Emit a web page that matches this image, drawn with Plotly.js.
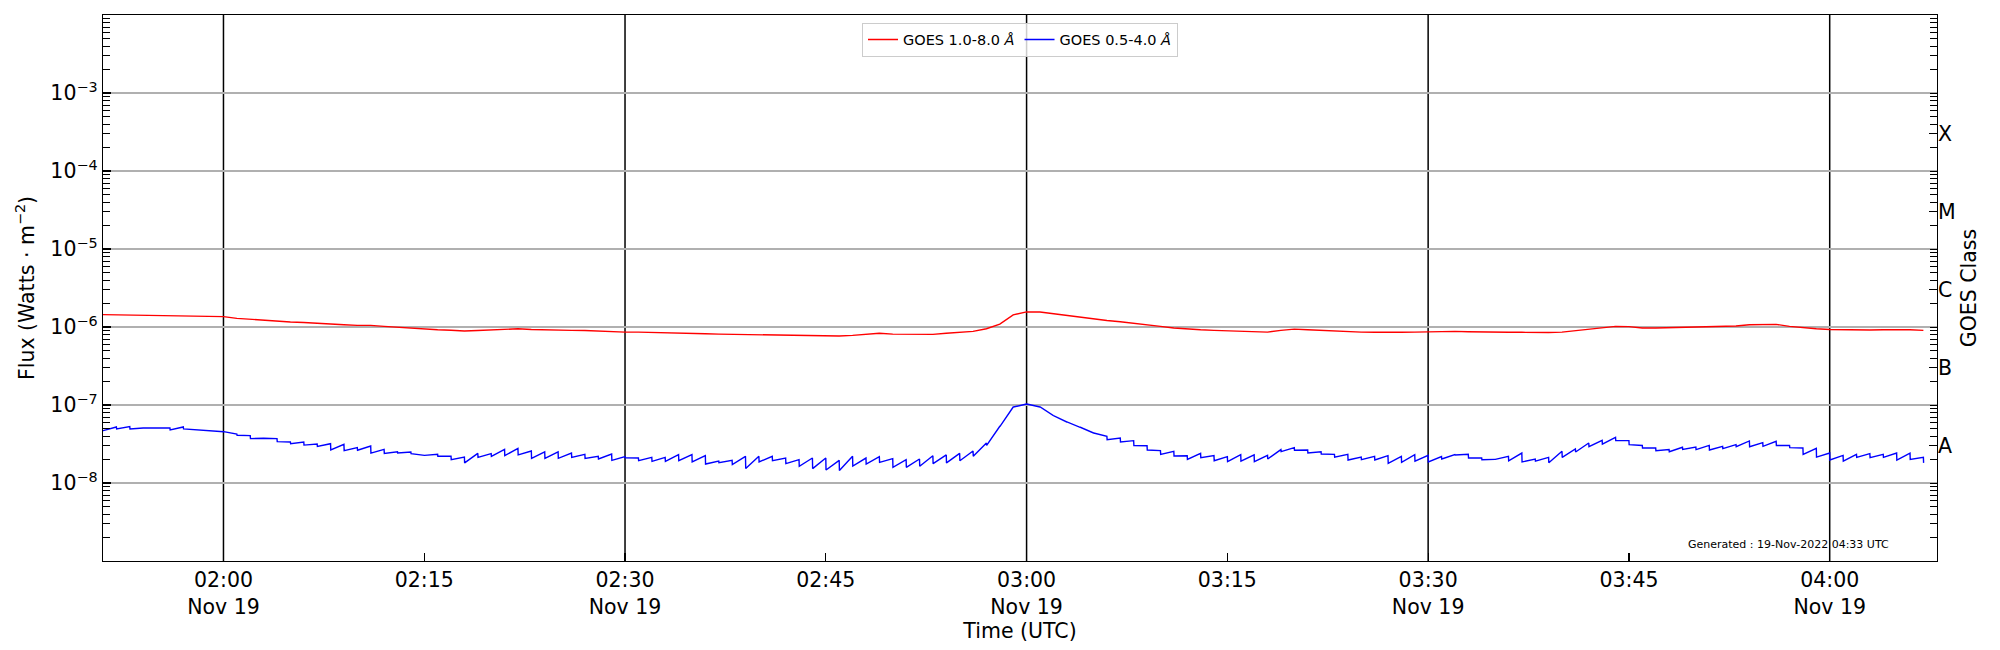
<!DOCTYPE html>
<html>
<head>
<meta charset="utf-8">
<script src="https://cdn.plot.ly/plotly-3.0.1.min.js"></script>
<style>
  html, body { margin: 0; padding: 0; background: #fff; }
  #goes-chart { width: 2000px; height: 650px; }
</style>
</head>
<body>
<div id="goes-chart"></div>
<script>
// one sample per minute, starting 2022-11-19 01:51 UTC
const startTime = Date.UTC(2022, 10, 19, 1, 51, 0);

// GOES 1.0-8.0 A, units of 1e-6 W/m^2
const longFlux = [
  1.44, 1.43, 1.43, 1.41, 1.41, 1.41, 1.41, 1.38, 1.37, 1.36,
  1.29, 1.25, 1.22, 1.18, 1.16, 1.14, 1.11, 1.09, 1.07, 1.05,
  1.05, 1.02, 0.99, 0.96, 0.94, 0.92, 0.91, 0.89, 0.90, 0.915,
  0.93, 0.95, 0.93, 0.915, 0.915, 0.905, 0.90, 0.88, 0.87, 0.86,
  0.86, 0.855, 0.85, 0.84, 0.83, 0.82, 0.81, 0.805, 0.80, 0.79,
  0.79, 0.79, 0.78, 0.78, 0.774, 0.767, 0.78, 0.81, 0.83, 0.81,
  0.805, 0.805, 0.805, 0.83, 0.85, 0.88, 0.95, 1.09, 1.43, 1.56,
  1.56, 1.48, 1.41, 1.36, 1.28, 1.21, 1.17, 1.11, 1.06, 1.02,
  0.97, 0.94, 0.92, 0.905, 0.89, 0.87, 0.86, 0.86, 0.905, 0.94,
  0.92, 0.90, 0.88, 0.87, 0.86, 0.855, 0.85, 0.855, 0.86, 0.87,
  0.87, 0.88, 0.87, 0.86, 0.855, 0.855, 0.855, 0.85, 0.85, 0.86,
  0.90, 0.93, 0.97, 1.02, 1.01, 0.97, 0.97, 0.98, 0.98, 0.99,
  1.00, 1.02, 1.03, 1.07, 1.07, 1.08, 1.02, 0.98, 0.95, 0.93,
  0.92, 0.92, 0.915, 0.92, 0.93, 0.92, 0.905
];

// GOES 0.5-4.0 A, units of 1e-8 W/m^2
// value reached at the end of each minute, and value just after the drop
const shortPeak = [
  4.69, 5.23, 5.28, 5.08, 5.08, 5.08, 5.23, 4.78, 4.64, 4.55,
  4.25, 4.05, 3.74, 3.71, 3.36, 3.36, 3.16, 3.19, 3.13, 2.84,
  2.98, 2.70, 2.52, 2.50, 2.29, 2.33, 2.20, 2.15, 2.40, 2.38,
  2.70, 2.78, 2.57, 2.50, 2.50, 2.42, 2.33, 2.20, 2.35, 2.18,
  2.09, 2.13, 2.13, 2.31, 2.31, 2.24, 1.91, 1.95, 2.20, 2.20,
  2.20, 2.09, 1.99, 2.09, 2.09, 1.95, 2.20, 2.09, 2.18, 2.05,
  1.99, 2.03, 2.24, 2.29, 2.40, 2.57, 3.26, 5.33, 9.42, 10.3,
  9.42, 7.30, 6.06, 5.18, 4.38, 3.97, 3.77, 3.49, 3.00, 2.60,
  2.55, 2.24, 2.40, 2.24, 2.18, 2.31, 2.29, 2.26, 2.68, 2.84,
  2.65, 2.52, 2.33, 2.33, 2.15, 2.20, 2.24, 2.20, 2.31, 2.26,
  2.18, 2.31, 2.33, 2.09, 2.01, 2.20, 2.42, 2.03, 2.13, 2.55,
  2.73, 3.26, 3.52, 3.85, 3.49, 3.03, 2.81, 2.68, 2.87, 2.89,
  3.03, 2.95, 3.10, 3.46, 3.29, 3.42, 3.03, 2.81, 2.78, 2.42,
  2.26, 2.33, 2.38, 2.33, 2.42, 2.42, 2.13
];
const shortDrop = [
  4.69, 4.93, 4.93, 5.08, 5.08, 4.78, 4.93, 4.78, 4.64, 4.55,
  4.09, 3.71, 3.74, 3.39, 3.19, 3.06, 2.95, 2.65, 2.60, 2.63,
  2.42, 2.40, 2.42, 2.38, 2.26, 2.20, 1.99, 1.81, 2.13, 2.20,
  2.24, 2.29, 2.07, 2.07, 2.07, 2.13, 2.07, 2.03, 1.95, 2.11,
  1.93, 1.89, 1.89, 1.93, 1.86, 1.75, 1.82, 1.72, 1.53, 1.86,
  1.93, 1.77, 1.64, 1.53, 1.47, 1.45, 1.65, 1.75, 1.84, 1.59,
  1.59, 1.64, 1.77, 1.81, 1.93, 2.20, 3.03, 5.33, 9.42, 10.3,
  9.42, 7.30, 6.06, 5.18, 4.38, 3.59, 3.36, 3.03, 2.65, 2.33,
  2.22, 2.01, 2.11, 1.93, 1.88, 1.91, 1.88, 2.03, 2.52, 2.63,
  2.42, 2.35, 2.15, 1.97, 1.99, 1.97, 1.79, 1.84, 1.91, 1.86,
  2.03, 2.29, 2.09, 1.99, 2.01, 1.93, 1.86, 1.91, 1.82, 2.13,
  2.50, 2.92, 3.16, 3.49, 3.10, 2.81, 2.60, 2.52, 2.70, 2.68,
  2.65, 2.76, 2.92, 2.92, 2.95, 3.03, 2.84, 2.33, 2.15, 1.97,
  1.91, 2.13, 2.11, 2.13, 1.97, 2.01, 1.81
];

const tickTimes = [
  '2022-11-19 02:00', '2022-11-19 02:15', '2022-11-19 02:30', '2022-11-19 02:45',
  '2022-11-19 03:00', '2022-11-19 03:15', '2022-11-19 03:30', '2022-11-19 03:45',
  '2022-11-19 04:00'
];
const tickLabels = [
  '02:00<br>Nov 19', '02:15', '02:30<br>Nov 19', '02:45',
  '03:00<br>Nov 19', '03:15', '03:30<br>Nov 19', '03:45',
  '04:00<br>Nov 19'
];
const halfHours = ['2022-11-19 02:00', '2022-11-19 02:30', '2022-11-19 03:00',
                   '2022-11-19 03:30', '2022-11-19 04:00'];

const fluxTicks = [1e-3, 1e-4, 1e-5, 1e-6, 1e-7, 1e-8];
const fluxLabels = ['10<sup>−3</sup>', '10<sup>−4</sup>', '10<sup>−5</sup>',
                    '10<sup>−6</sup>', '10<sup>−7</sup>', '10<sup>−8</sup>'];
const classTicks = [3e-8, 3e-7, 3e-6, 3e-5, 3e-4];
const classLabels = ['A', 'B', 'C', 'M', 'X'];

const FONT = 'DejaVu Sans, Verdana, sans-serif';
const FS = 20.5;

const fmt = ms => new Date(ms).toISOString().slice(0, 19).replace('T', ' ');

// --- build traces ---
const longX = [], longY = [];
longFlux.forEach((v, i) => {
    longX.push(fmt(startTime + i * 60000));
    longY.push(v * 1e-6);
});

const shortX = [], shortY = [];
shortPeak.forEach((v, i) => {
    const t = startTime + i * 60000;
    shortX.push(fmt(t));        shortY.push(v * 1e-8);
    shortX.push(fmt(t + 1000)); shortY.push(shortDrop[i] * 1e-8);
});

const traces = [
    {
        x: longX, y: longY, name: 'GOES 1.0-8.0 <i>Å</i>',
        type: 'scatter', mode: 'lines',
        line: { color: '#ff0000', width: 1.4 }
    },
    {
        x: shortX, y: shortY, name: 'GOES 0.5-4.0 <i>Å</i>',
        type: 'scatter', mode: 'lines',
        line: { color: '#0000ff', width: 1.4 }
    },
    // empty trace so the class axis on the right gets drawn
    { x: [], y: [], yaxis: 'y2', type: 'scatter', mode: 'lines', showlegend: false, hoverinfo: 'skip' }
];

const layout = {
    width: 2000, height: 650,
    margin: { l: 103, r: 63, t: 15, b: 89 },
    paper_bgcolor: '#fff', plot_bgcolor: '#fff',
    font: { family: FONT, color: '#000', size: FS },
    hovermode: false,
    showlegend: true,
    legend: {
        orientation: 'h', x: 0.5, xanchor: 'center', y: 0.986, yanchor: 'top',
        bgcolor: 'rgba(255,255,255,0.8)', bordercolor: '#cccccc', borderwidth: 1,
        font: { family: FONT, size: 14.5, color: '#000' },
        itemwidth: 30
    },
    xaxis: {
        type: 'date',
        range: ['2022-11-19 01:51:00', '2022-11-19 04:08:01'],
        tickmode: 'array', tickvals: tickTimes, ticktext: tickLabels,
        ticks: 'inside', ticklen: 8, tickwidth: 1.2, tickcolor: '#000',
        showgrid: false, zeroline: false,
        showline: true, linecolor: '#000', linewidth: 1.3, mirror: true,
        tickfont: { family: FONT, size: FS, color: '#000' },
        title: { text: 'Time (UTC)', font: { family: FONT, size: FS, color: '#000' }, standoff: 4 }
    },
    yaxis: {
        type: 'log', range: [-9, -2],
        tickmode: 'array', tickvals: fluxTicks, ticktext: fluxLabels,
        ticks: 'inside', ticklen: 8, tickwidth: 1.2, tickcolor: '#000',
        minor: { ticks: 'inside', ticklen: 7, tickwidth: 1, tickcolor: '#000', dtick: 'D1', showgrid: false },
        showgrid: true, gridcolor: '#b0b0b0', gridwidth: 1.2,
        zeroline: false,
        showline: true, linecolor: '#000', linewidth: 1.3, mirror: true,
        tickfont: { family: FONT, size: FS, color: '#000' },
        title: { text: 'Flux (Watts · m<sup>−2</sup>)', font: { family: FONT, size: FS, color: '#000' }, standoff: 10 }
    },
    yaxis2: {
        type: 'log', range: [-9, -2], overlaying: 'y', side: 'right',
        tickmode: 'array', tickvals: classTicks, ticktext: classLabels,
        ticks: 'inside', ticklen: 8, tickwidth: 1.2, tickcolor: '#000',
        minor: { ticks: 'inside', ticklen: 7, tickwidth: 1, tickcolor: '#000', dtick: 'D1', showgrid: false },
        showgrid: false, zeroline: false, showline: false,
        tickfont: { family: FONT, size: FS, color: '#000' },
        title: { text: 'GOES Class', font: { family: FONT, size: FS, color: '#000' }, standoff: 6 }
    },
    shapes: halfHours.map(t => ({
        type: 'line', xref: 'x', yref: 'paper', x0: t, x1: t, y0: 0, y1: 1,
        layer: 'below', line: { color: '#000', width: 1.5 }
    })),
    annotations: [{
        text: 'Generated : 19-Nov-2022 04:33 UTC',
        xref: 'paper', yref: 'paper', x: 0.975, y: 0.03,
        xanchor: 'right', yanchor: 'middle', showarrow: false,
        font: { family: FONT, size: 11, color: '#000' }
    }]
};

Plotly.newPlot('goes-chart', traces, layout, { displayModeBar: false, staticPlot: true });
</script>
</body>
</html>
